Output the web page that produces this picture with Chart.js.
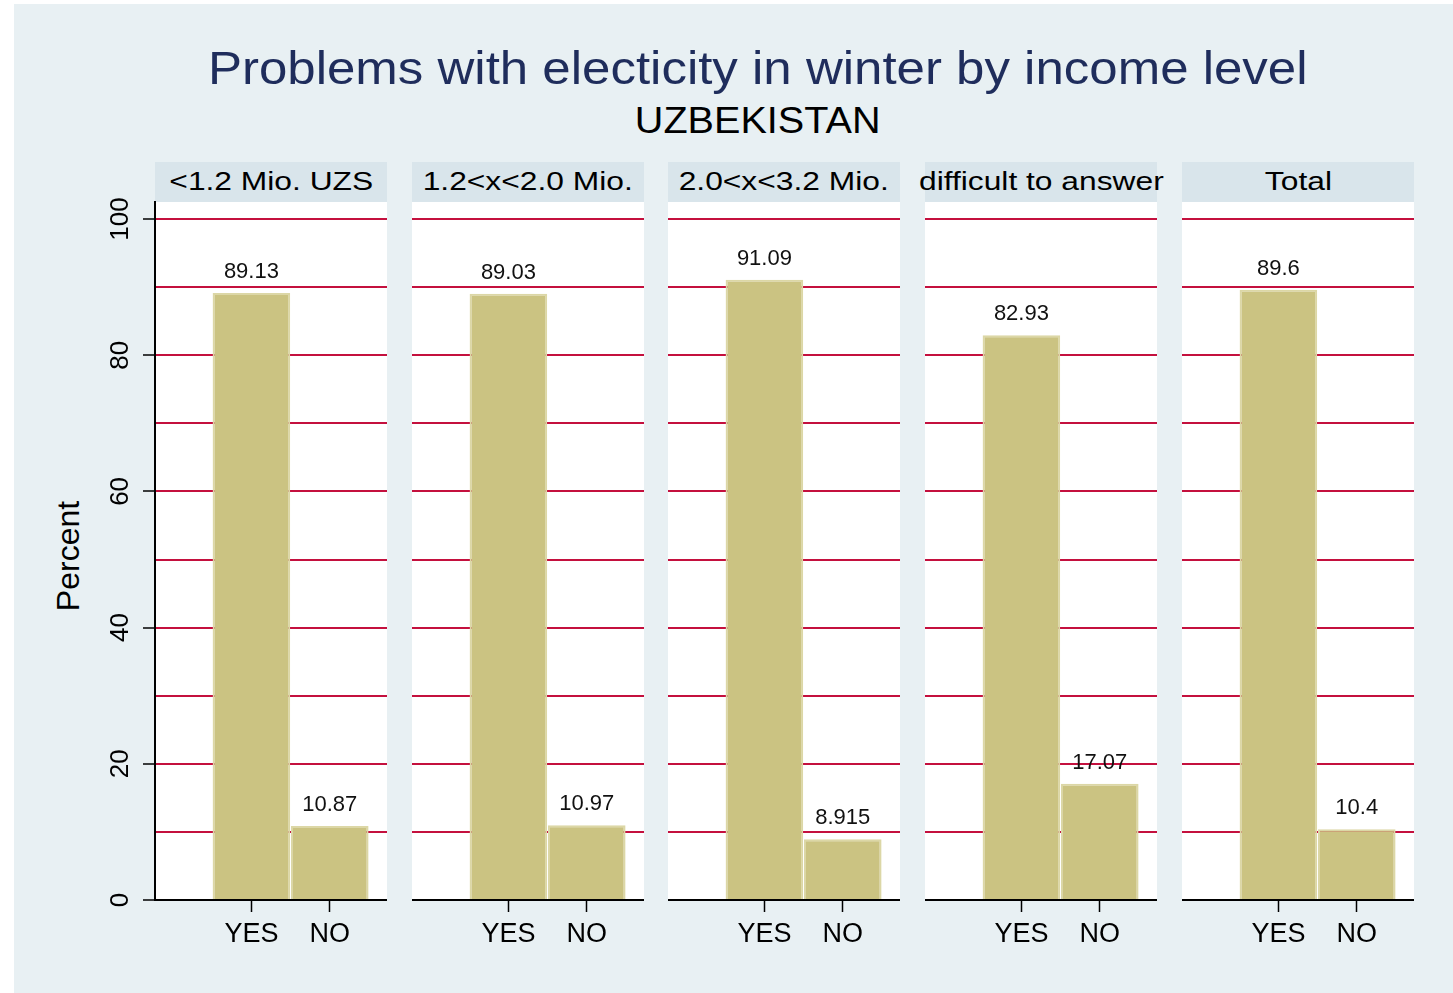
<!DOCTYPE html>
<html>
<head>
<meta charset="utf-8">
<script src="https://cdn.jsdelivr.net/npm/chart.js@4.4.0/dist/chart.umd.min.js"></script>
<style>
  body { margin: 0; width: 1453px; height: 993px; overflow: hidden; position: relative; background: #fff;
         font-family: "Liberation Sans", Arial, sans-serif; }
  #bg { position: absolute; left: 14px; top: 4px; right: 0; bottom: 0; background: #e8f0f3; }
  .center { position: absolute; left: 0; width: 1515px; display: flex; justify-content: center; white-space: nowrap; }
  .center span { display: inline-block; }
  #title { top: 44px; font-size: 47px; line-height: 47px; color: #1f2d5c; }
  #title span { transform: scaleX(1.085); }
  #sub { top: 103px; font-size: 36px; line-height: 36px; color: #000; }
  #sub span { transform: scaleX(1.1); }
  .strip { position: absolute; top: 162px; height: 40px; background: #d9e5eb; display: flex; justify-content: center;
           font-size: 25px; line-height: 39px; color: #000; white-space: nowrap; }
  .strip span { display: inline-block; transform: scaleX(1.27); }
  #ytitle { position: absolute; left: -32px; top: 540px; width: 200px; height: 32px; line-height: 32px; font-size: 32px;
            text-align: center; transform: rotate(-90deg); color: #000; }
  canvas { position: absolute; }
</style>
</head>
<body>
<div id="bg"></div>
<div id="title" class="center"><span>Problems with electicity in winter by income level</span></div>
<div id="sub" class="center"><span>UZBEKISTAN</span></div>
<div id="ytitle">Percent</div>
<script>
// data
const groups = ['<1.2 Mio. UZS', '1.2<x<2.0 Mio.', '2.0<x<3.2 Mio.', 'difficult to answer', 'Total'];
const answers = ['YES', 'NO'];
const yesPct = [89.13, 89.03, 91.09, 82.93, 89.6];
const noPct = [10.87, 10.97, 8.915, 17.07, 10.4];

// layout
const panelLeft = [155, 412, 668, 925, 1182];
const panelW = 232;
const plotTop = 202;
const plotH = 698;
const axisH = 92;
const topPad = 24;   // room above the plot for the rotated "100"
const FONT = '"Liberation Sans", Arial, sans-serif';
Chart.defaults.font.family = FONT;

// white plot region
const plotBg = {
  id: 'plotBg',
  beforeDraw(chart) {
    const a = chart.chartArea;
    chart.ctx.save();
    chart.ctx.fillStyle = '#fff';
    chart.ctx.fillRect(a.left, a.top, a.right - a.left, a.bottom - a.top);
    chart.ctx.restore();
  }
};

// value on top of each bar
const barLabels = {
  id: 'barLabels',
  afterDatasetsDraw(chart) {
    const ctx = chart.ctx;
    const ds = chart.data.datasets[0];
    chart.getDatasetMeta(0).data.forEach((bar, k) => {
      ctx.save();
      ctx.font = '22px ' + FONT;
      ctx.fillStyle = '#111';
      ctx.textAlign = 'center';
      ctx.textBaseline = 'middle';
      ctx.fillText(String(ds.data[k].y), bar.x, bar.y - 21);
      ctx.restore();
    });
  }
};

groups.forEach((g, i) => {
  const isFirst = i === 0;
  const axisW = isFirst ? 65 : 0;

  const strip = document.createElement('div');
  strip.className = 'strip';
  strip.style.left = panelLeft[i] + 'px';
  strip.style.width = panelW + 'px';
  const sp = document.createElement('span');
  sp.textContent = g;
  strip.appendChild(sp);
  document.body.appendChild(strip);

  const cv = document.createElement('canvas');
  cv.width = panelW + axisW;
  cv.height = topPad + plotH + axisH;
  cv.style.left = (panelLeft[i] - axisW) + 'px';
  cv.style.top = (plotTop - topPad) + 'px';
  document.body.appendChild(cv);

  new Chart(cv, {
    type: 'bar',
    data: {
      datasets: [{
        data: [{ x: 1, y: yesPct[i] }, { x: 2, y: noPct[i] }],
        backgroundColor: '#cbc382',
        borderColor: '#dcd7a6',
        borderWidth: 2,
        barPercentage: 0.99,
        categoryPercentage: 1
      }]
    },
    options: {
      responsive: false,
      animation: false,
      events: [],
      layout: { padding: { top: topPad, left: 0, right: 0, bottom: 0 } },
      plugins: { legend: { display: false }, tooltip: { enabled: false } },
      scales: {
        x: {
          type: 'linear',
          offset: false,
          min: -0.23,
          max: 2.73,
          afterBuildTicks: s => { s.ticks = answers.map((a, k) => ({ value: k + 1 })); },
          afterFit: s => { s.height = axisH; s.paddingLeft = 0; s.paddingRight = 0; },
          ticks: { callback: v => answers[v - 1], color: '#000', font: { size: 27 }, padding: 6, maxRotation: 0, autoSkip: false },
          grid: { offset: false, drawOnChartArea: false, tickLength: 12, tickColor: '#000', tickWidth: 1.5 },
          border: { color: '#000', width: 2 }
        },
        y: {
          min: 0,
          max: 102.5,
          afterBuildTicks: s => { s.ticks = s.ticks.filter(t => t.value <= 100); },
          afterFit: s => { s.width = axisW; s.paddingTop = 0; s.paddingBottom = 0; },
          ticks: {
            stepSize: 10,
            includeBounds: false,
            display: isFirst,
            callback: v => (Math.round(v) % 20 === 0 ? Math.round(v) : ''),
            minRotation: 90,
            maxRotation: 90,
            crossAlign: 'center',
            padding: 0,
            color: '#000',
            font: { size: 26 }
          },
          grid: {
            color: '#c4103e',
            lineWidth: 2,
            drawTicks: isFirst,
            tickLength: 12,
            tickWidth: 1.5,
            tickColor: c => (c.tick && Math.round(c.tick.value) % 20 === 0 ? '#000' : 'rgba(0,0,0,0)')
          },
          border: { display: isFirst, color: '#000', width: 2 }
        }
      }
    },
    plugins: [plotBg, barLabels]
  });
});
</script>
</body>
</html>
